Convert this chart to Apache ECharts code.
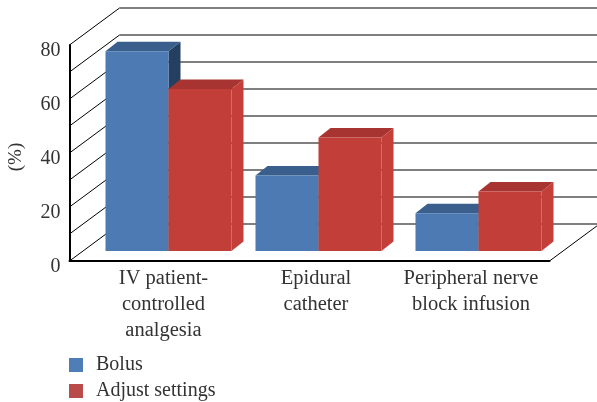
<!DOCTYPE html>
<html lang="en">
  <head>
    <meta charset="UTF-8" />
    <title>Bolus and adjust settings</title>
    <script src="https://cdn.jsdelivr.net/npm/echarts@6/dist/echarts.min.js"></script>
    <style>
      body { margin: 0; background: #fff; }
    </style>
  </head>
  <body>
    <div id="chart" style="width: 597px; height: 402px"></div>

    <script type="text/javascript">
      const categories = ["IV patient-\ncontrolled\nanalgesia", "Epidural\ncatheter", "Peripheral nerve\nblock infusion"];
      const bolus = [74, 28, 14];
      const adjustSettings = [60, 42, 22];
      const wallLines = [0, 10, 20, 30, 40, 50, 60, 70, 80];

      // fake 3d: how far the back wall sits behind the front plane, in px
      const wallDx = 50;
      const wallDy = 37;
      // the bars stand a bit behind the front edge of the floor
      const barLift = 10;
      const barDepthX = 12;
      const barDepthY = 9.5;
      const barWidth = 63;
      // the groups are not quite centred in their bands in the original
      const groupShift = [19, 9, 9];
      const labelShift = [14, 6.5, 1.5];

      const textColor = "#333";
      const serif = "Liberation Serif";

      function renderWall(params, api) {
        const rect = params.coordSys;
        const y = api.coord([0, api.value(1)])[1];
        const left = rect.x;
        const right = rect.x + rect.width;
        const children = [
          {
            type: "line",
            shape: { x1: left, y1: y, x2: left + wallDx, y2: y - wallDy },
            style: { stroke: "#000", lineWidth: 1 },
          },
          {
            type: "line",
            shape: { x1: left + wallDx, y1: y - wallDy, x2: right + wallDx, y2: y - wallDy },
            style: { stroke: "#555", lineWidth: 1.4 },
          },
        ];
        // right edge of the floor
        if (api.value(1) === 0) {
          children.push({
            type: "line",
            shape: { x1: right, y1: y, x2: right + wallDx, y2: y - wallDy },
            style: { stroke: "#000", lineWidth: 1 },
          });
        }
        return { type: "group", children: children };
      }

      function bar3d(colors, side) {
        return function (params, api) {
          const cat = api.value(0);
          const base = api.coord([cat, 0]);
          const top = api.coord([cat, api.value(1)]);
          const x0 = base[0] + groupShift[cat] + (side < 0 ? -barWidth : 0);
          const x1 = x0 + barWidth;
          const yb = base[1] - barLift;
          const yt = top[1] - barLift;
          return {
            type: "group",
            children: [
              {
                type: "polygon",
                shape: { points: [[x1, yt], [x1 + barDepthX, yt - barDepthY], [x1 + barDepthX, yb - barDepthY], [x1, yb]] },
                style: { fill: colors.side },
              },
              {
                type: "polygon",
                shape: { points: [[x0, yt], [x0 + barDepthX, yt - barDepthY], [x1 + barDepthX, yt - barDepthY], [x1, yt]] },
                style: { fill: colors.top },
              },
              {
                type: "rect",
                shape: { x: x0, y: yt, width: barWidth, height: yb - yt },
                style: { fill: colors.front },
              },
            ],
          };
        };
      }

      const richLabels = {};
      labelShift.forEach((shift, i) => {
        richLabels["c" + i] = {
          fontFamily: serif,
          fontSize: 20.5,
          lineHeight: 26,
          color: textColor,
          padding: [0, 0, 0, shift * 2],
        };
      });

      const chart = echarts.init(document.getElementById("chart"));

      chart.setOption({
        animation: false,
        backgroundColor: "#fff",
        grid: { left: 69.5, top: 45, width: 480, height: 216, outerBoundsMode: "none" },
        xAxis: {
          type: "category",
          data: categories,
          axisTick: { show: false },
          axisLine: { lineStyle: { color: "#000", width: 2 } },
          axisLabel: {
            interval: 0,
            margin: 5,
            formatter: (value, index) =>
              value
                .split("\n")
                .map((line) => "{c" + index + "|" + line + "}")
                .join("\n"),
            rich: richLabels,
          },
        },
        yAxis: {
          type: "value",
          min: 0,
          max: 80,
          interval: 20,
          name: "(%)",
          nameLocation: "middle",
          nameRotate: 90,
          nameGap: 44,
          nameTextStyle: { fontFamily: serif, fontSize: 19, color: textColor, padding: [0, 8, 0, 0] },
          splitLine: { show: false },
          axisTick: { show: false },
          axisLine: { show: true, lineStyle: { color: "#000", width: 2 } },
          axisLabel: {
            margin: 9,
            fontFamily: serif,
            fontSize: 20,
            color: textColor,
            // labels sit a little under their level in the original
            verticalAlign: "top",
            lineHeight: 12,
          },
        },
        legend: {
          orient: "vertical",
          left: 64,
          top: 350,
          height: 60,
          itemWidth: 14,
          itemHeight: 14,
          itemGap: 6,
          icon: "rect",
          textStyle: { fontFamily: serif, fontSize: 20, color: textColor, padding: [0, 0, 0, 8] },
          data: [
            { name: "Bolus", itemStyle: { color: "#4f7db5" } },
            { name: "Adjust settings", itemStyle: { color: "#b94c4b" } },
          ],
        },
        series: [
          {
            type: "custom",
            name: "walls",
            silent: true,
            renderItem: renderWall,
            encode: { x: 0, y: 1 },
            data: wallLines.map((v) => [0, v]),
            z: 1,
          },
          {
            type: "custom",
            name: "Bolus",
            silent: true,
            itemStyle: { color: "#4f7db5" },
            renderItem: bar3d({ front: "#4d7ab3", top: "#3a5f8c", side: "#243f5f" }, -1),
            encode: { x: 0, y: 1 },
            data: bolus.map((v, i) => [i, v]),
            z: 3,
          },
          {
            type: "custom",
            name: "Adjust settings",
            silent: true,
            itemStyle: { color: "#b94c4b" },
            renderItem: bar3d({ front: "#c23e38", top: "#a83431", side: "#c43f39" }, 1),
            encode: { x: 0, y: 1 },
            data: adjustSettings.map((v, i) => [i, v]),
            z: 4,
          },
        ],
      });
    </script>
  </body>
</html>
